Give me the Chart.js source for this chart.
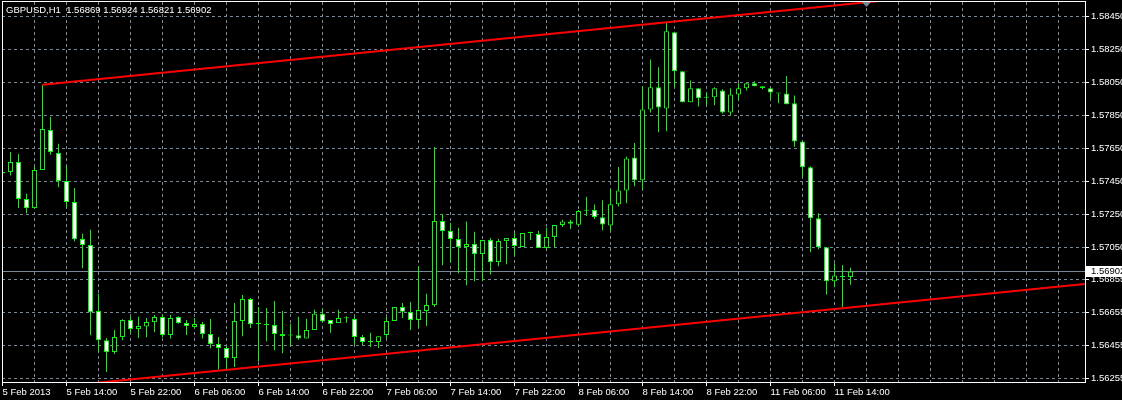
<!DOCTYPE html>
<html>
<head>
<meta charset="utf-8">
<title>GBPUSD,H1</title>
<script src="https://cdn.jsdelivr.net/npm/chart.js@4.4.1/dist/chart.umd.min.js"></script>
<style>
  html, body { margin: 0; padding: 0; background: #000; }
  #wrap { width: 1122px; height: 400px; }
</style>
</head>
<body>
<div id="wrap"><canvas id="chart" width="1122" height="400"></canvas></div>
<script>
// GBPUSD H1 bars, 5 Feb 2013 06:00 .. 11 Feb 2013 16:00 (one entry per bar)
const symbol = 'GBPUSD';
const period = 'H1';

const opens = [
  1.57495, 1.57505, 1.57565, 1.57341, 1.57286, 1.57517, 1.57759, 1.57620, 1.57450, 1.57323,
  1.57099, 1.57062, 1.56662, 1.56485, 1.56414, 1.56505, 1.56608, 1.56553, 1.56569, 1.56595,
  1.56626, 1.56517, 1.56626, 1.56589, 1.56565, 1.56583, 1.56523, 1.56462, 1.56438, 1.56377,
  1.56602, 1.56735, 1.56583, 1.56577, 1.56577, 1.56523, 1.56514, 1.56515, 1.56496, 1.56547,
  1.56646, 1.56608, 1.56589, 1.56618, 1.56614, 1.56505, 1.56474, 1.56474, 1.56517, 1.56602,
  1.56686, 1.56656, 1.56608, 1.56662, 1.56698, 1.57208, 1.57147, 1.57098, 1.57050, 1.57068,
  1.57008, 1.57092, 1.56959, 1.57086, 1.57105, 1.57050, 1.57135, 1.57129, 1.57044, 1.57111,
  1.57183, 1.57204, 1.57185, 1.57270, 1.57274, 1.57230, 1.57181, 1.57309, 1.57393, 1.57593,
  1.57454, 1.57884, 1.58018, 1.57890, 1.58351, 1.58115, 1.57927, 1.58012, 1.57955, 1.57957,
  1.57999, 1.57866, 1.57975, 1.58012, 1.58042, 1.58024, 1.58012, 1.57981, 1.57981, 1.57921,
  1.57690, 1.57533, 1.57224, 1.57048, 1.56842, 1.56868, 1.56869
];
const highs = [
  1.57515, 1.57626, 1.57614, 1.57373, 1.57537, 1.58034, 1.57840, 1.57676, 1.57543, 1.57408,
  1.57131, 1.57155, 1.56767, 1.56499, 1.56547, 1.56612, 1.56628, 1.56628, 1.56620, 1.56638,
  1.56638, 1.56638, 1.56630, 1.56608, 1.56620, 1.56595, 1.56614, 1.56505, 1.56450, 1.56711,
  1.56759, 1.56741, 1.56686, 1.56680, 1.56723, 1.56662, 1.56585, 1.56628, 1.56616, 1.56670,
  1.56676, 1.56608, 1.56670, 1.56630, 1.56630, 1.56517, 1.56531, 1.56510, 1.56626, 1.56686,
  1.56711, 1.56717, 1.56933, 1.56767, 1.57656, 1.57250, 1.57197, 1.57167, 1.57204, 1.57143,
  1.57092, 1.57105, 1.57098, 1.57105, 1.57135, 1.57135, 1.57143, 1.57149, 1.57167, 1.57183,
  1.57216, 1.57216, 1.57274, 1.57355, 1.57307, 1.57333, 1.57402, 1.57535, 1.57599, 1.57680,
  1.58024, 1.58187, 1.58139, 1.58412, 1.58355, 1.58115, 1.58060, 1.58012, 1.57987, 1.58018,
  1.58006, 1.58012, 1.58042, 1.58042, 1.58054, 1.58024, 1.58012, 1.57981, 1.58086, 1.57969,
  1.57690, 1.57539, 1.57254, 1.57048, 1.56951, 1.56939, 1.56924
];
const lows = [
  1.57485, 1.57484, 1.57286, 1.57254, 1.57282, 1.57517, 1.57610, 1.57412, 1.57290, 1.57084,
  1.56921, 1.56515, 1.56412, 1.56293, 1.56402, 1.56485, 1.56527, 1.56499, 1.56503, 1.56533,
  1.56503, 1.56496, 1.56585, 1.56517, 1.56559, 1.56496, 1.56436, 1.56307, 1.56307, 1.56323,
  1.56509, 1.56559, 1.56354, 1.56478, 1.56424, 1.56406, 1.56448, 1.56488, 1.56496, 1.56547,
  1.56595, 1.56531, 1.56589, 1.56591, 1.56456, 1.56456, 1.56444, 1.56438, 1.56492, 1.56602,
  1.56620, 1.56547, 1.56559, 1.56571, 1.56686, 1.56939, 1.56957, 1.56890, 1.56818, 1.56842,
  1.56842, 1.56884, 1.56933, 1.56945, 1.56999, 1.57050, 1.57092, 1.57044, 1.57038, 1.57050,
  1.57171, 1.57159, 1.57179, 1.57238, 1.57220, 1.57151, 1.57145, 1.57296, 1.57315, 1.57418,
  1.57399, 1.57866, 1.57745, 1.57751, 1.58018, 1.57927, 1.57927, 1.57902, 1.57909, 1.57909,
  1.57860, 1.57848, 1.57939, 1.57999, 1.58024, 1.58006, 1.57945, 1.57921, 1.57915, 1.57658,
  1.57472, 1.57018, 1.57036, 1.56763, 1.56806, 1.56684, 1.56821
];
const closes = [
  1.57505, 1.57565, 1.57341, 1.57286, 1.57517, 1.57765, 1.57626, 1.57450, 1.57323, 1.57097,
  1.57062, 1.56654, 1.56485, 1.56414, 1.56505, 1.56608, 1.56553, 1.56571, 1.56595, 1.56626,
  1.56517, 1.56620, 1.56589, 1.56571, 1.56583, 1.56523, 1.56462, 1.56438, 1.56377, 1.56602,
  1.56735, 1.56583, 1.56583, 1.56577, 1.56523, 1.56511, 1.56514, 1.56496, 1.56547, 1.56646,
  1.56599, 1.56583, 1.56620, 1.56618, 1.56505, 1.56474, 1.56474, 1.56510, 1.56602, 1.56686,
  1.56658, 1.56608, 1.56668, 1.56698, 1.57208, 1.57147, 1.57098, 1.57050, 1.57068, 1.57008,
  1.57092, 1.56959, 1.57086, 1.57105, 1.57056, 1.57135, 1.57135, 1.57044, 1.57111, 1.57183,
  1.57204, 1.57191, 1.57268, 1.57270, 1.57232, 1.57187, 1.57309, 1.57393, 1.57587, 1.57454,
  1.57884, 1.58018, 1.57896, 1.58357, 1.58115, 1.57927, 1.58012, 1.57951, 1.57955, 1.58012,
  1.57866, 1.57975, 1.58012, 1.58042, 1.58024, 1.58012, 1.57987, 1.57981, 1.57915, 1.57690,
  1.57533, 1.57224, 1.57048, 1.56842, 1.56878, 1.56868, 1.56902
];

// time labels, one every 8 bars starting at bar 0
const xTickLabels = [
  '5 Feb 2013', '5 Feb 14:00', '5 Feb 22:00', '6 Feb 06:00', '6 Feb 14:00',
  '6 Feb 22:00', '7 Feb 06:00', '7 Feb 14:00', '7 Feb 22:00', '8 Feb 06:00',
  '8 Feb 14:00', '8 Feb 22:00', '11 Feb 06:00', '11 Feb 14:00'
];
const labelStep = 8;
const gridStep = 4;

// price axis labels as printed by the terminal
const yTickValues = [
  1.56255, 1.56455, 1.56655, 1.56855, 1.57050, 1.57250,
  1.57450, 1.57650, 1.57850, 1.58050, 1.58250, 1.58450
];

// channel drawn on the chart: two anchor bars and the price on each line
const trendBars = [5, 83];
const trendUpper = [1.58034, 1.58412];
const trendLower = [1.56194, 1.56572];

const shiftBar = 108; // chart-shift marker

// visible window
const yMin = 1.56232;
const yMax = 1.58535;
const xMin = -0.0625;   // keeps 5px bodies on whole pixels
const xMax = 135.3125;

const GREEN = '#00ff00';
const GRID = '#778899';
const FONT = "'Liberation Sans', Arial, sans-serif";

Chart.defaults.font.family = FONT;
Chart.defaults.font.size = 9.5;
Chart.defaults.color = '#ffffff';

const bars = opens.map((o, i) => i);
const wickData = bars.map(i => ({ x: i, y: [lows[i], highs[i]] }));
const bodyData = bars.map(i => ({ x: i, y: [Math.min(opens[i], closes[i]), Math.max(opens[i], closes[i])] }));
const bodyFill = bars.map(i => closes[i] >= opens[i] ? '#000000' : '#ffffff');

// straight line through two anchors, carried on to the right edge
function ray(xs, ys, toX) {
  const slope = (ys[1] - ys[0]) / (xs[1] - xs[0]);
  return [
    { x: xs[0], y: ys[0] },
    { x: toX, y: ys[0] + slope * (toX - xs[0]) }
  ];
}

const xGridBars = [];
for (let b = 0; b <= xMax; b += gridStep) xGridBars.push(b);

function xLabel(v) {
  if (v % labelStep !== 0) return '';
  return xTickLabels[v / labelStep] || '';
}

// overlay: bid line, frame, title, price tag, shift marker
const terminalOverlay = {
  id: 'terminalOverlay',
  beforeDatasetsDraw(chart) {
    const { ctx, chartArea } = chart;
    const y = Math.round(chart.scales.y.getPixelForValue(closes[closes.length - 1])) + 0.5;
    ctx.save();
    ctx.strokeStyle = GRID;
    ctx.lineWidth = 1;
    ctx.beginPath();
    ctx.moveTo(chartArea.left, y);
    ctx.lineTo(chartArea.right, y);
    ctx.stroke();
    ctx.restore();
  },
  afterDraw(chart) {
    const { ctx, chartArea } = chart;
    const n = closes.length - 1;
    ctx.save();

    // frame
    ctx.strokeStyle = '#ffffff';
    ctx.lineWidth = 1;
    ctx.strokeRect(chartArea.left + 0.5, chartArea.top - 0.5, chartArea.right - chartArea.left, chartArea.bottom - chartArea.top + 1);

    // title
    ctx.fillStyle = '#ffffff';
    ctx.font = '9.5px ' + FONT;
    ctx.textBaseline = 'middle';
    ctx.textAlign = 'left';
    const title = symbol + ',' + period + '  ' +
      [opens[n], highs[n], lows[n], closes[n]].map(v => v.toFixed(5)).join(' ');
    ctx.fillText(title, 6, 10);

    // current price tag on the axis
    const py = Math.round(chart.scales.y.getPixelForValue(closes[n]));
    ctx.fillStyle = '#ffffff';
    ctx.fillRect(chartArea.right + 1, py - 5, chart.width - chartArea.right - 1, 11);
    ctx.fillStyle = '#000000';
    ctx.fillText(closes[n].toFixed(5), chartArea.right + 6, py + 0.5);

    // chart shift marker
    const sx = chart.scales.x.getPixelForValue(shiftBar);
    ctx.fillStyle = GRID;
    ctx.beginPath();
    ctx.moveTo(sx - 4.5, chartArea.top);
    ctx.lineTo(sx + 4.5, chartArea.top);
    ctx.lineTo(sx, chartArea.top + 5);
    ctx.closePath();
    ctx.fill();

    ctx.restore();
  }
};

new Chart(document.getElementById('chart'), {
  type: 'bar',
  data: {
    datasets: [
      {
        type: 'line',
        label: 'channel top',
        data: ray(trendBars, trendUpper, xMax),
        borderColor: '#ff0000',
        borderWidth: 2,
        pointRadius: 0,
        fill: false,
        tension: 0
      },
      {
        type: 'line',
        label: 'channel bottom',
        data: ray(trendBars, trendLower, xMax),
        borderColor: '#ff0000',
        borderWidth: 2,
        pointRadius: 0,
        fill: false,
        tension: 0
      },
      {
        label: 'bodies',
        data: bodyData,
        backgroundColor: bodyFill,
        borderColor: GREEN,
        borderWidth: 1,
        borderSkipped: false,
        grouped: false,
        maxBarThickness: 5,
        minBarLength: 1,
        inflateAmount: 0
      },
      {
        label: 'wicks',
        data: wickData,
        backgroundColor: GREEN,
        borderWidth: 0,
        grouped: false,
        maxBarThickness: 1,
        minBarLength: 1,
        inflateAmount: 0
      }
    ]
  },
  options: {
    responsive: false,
    animation: false,
    layout: { padding: { left: 2, top: 2, right: 0, bottom: 0 } },
    plugins: {
      legend: { display: false },
      tooltip: { enabled: false },
      title: { display: false }
    },
    scales: {
      x: {
        type: 'linear',
        min: xMin,
        max: xMax,
        offset: false,
        afterBuildTicks: s => { s.ticks = xGridBars.map(v => ({ value: v })); },
        afterFit: s => { s.height = 18; s.paddingLeft = 0; s.paddingRight = 0; },
        grid: {
          color: GRID,
          offset: false,
          tickLength: 4,
          tickWidth: 1,
          tickBorderDash: [],
          tickColor: c => (c.tick && xLabel(c.tick.value) !== '') ? '#ffffff' : 'rgba(0,0,0,0)'
        },
        border: { display: true, color: '#ffffff', dash: [3, 3] },
        ticks: {
          color: '#ffffff',
          align: 'start',
          autoSkip: false,
          maxRotation: 0,
          minRotation: 0,
          padding: 1,
          callback: v => xLabel(v)
        }
      },
      y: {
        position: 'right',
        min: yMin,
        max: yMax,
        beginAtZero: false,
        afterBuildTicks: s => { s.ticks = yTickValues.map(v => ({ value: v })); },
        afterFit: s => { s.width = 37; s.paddingTop = 0; s.paddingBottom = 0; },
        grid: {
          color: GRID,
          tickLength: 4,
          tickWidth: 1,
          tickBorderDash: [],
          tickColor: '#ffffff'
        },
        border: { display: true, color: '#ffffff', dash: [3, 3] },
        ticks: {
          color: '#ffffff',
          autoSkip: false,
          padding: 2,
          callback: v => v.toFixed(5)
        }
      }
    }
  },
  plugins: [terminalOverlay]
});
</script>
</body>
</html>
